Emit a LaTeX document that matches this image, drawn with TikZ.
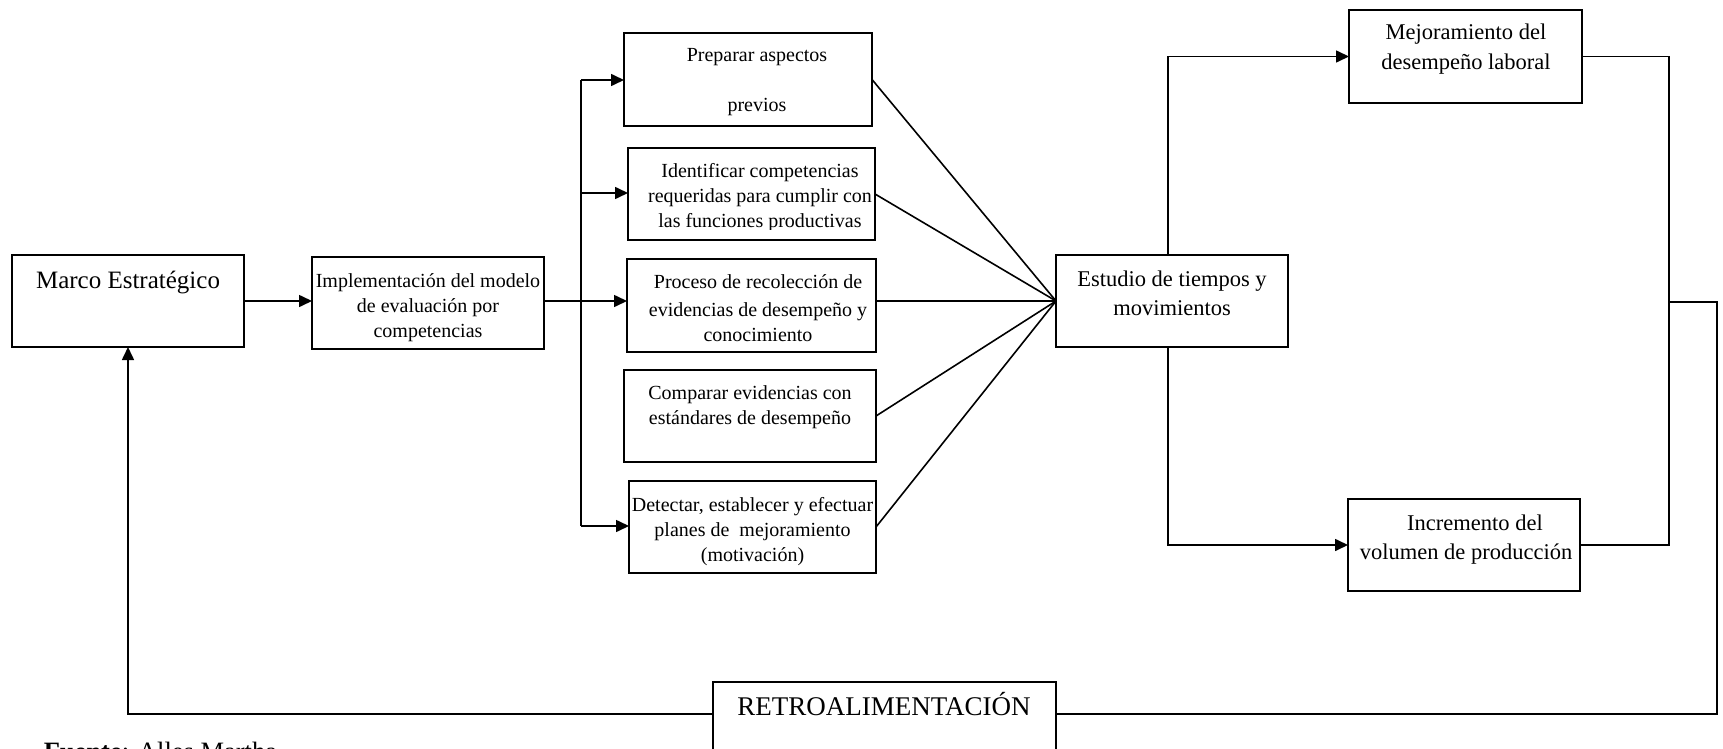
\documentclass[tikz,border=0pt]{standalone}
\usepackage{fontspec}
\setmainfont{Liberation Serif}
\usetikzlibrary{arrows.meta}
\begin{document}
\begin{tikzpicture}[x=1pt,y=-1pt,
  line width=1.6pt,
  box/.style={draw, line width=1.6pt, inner sep=0pt, outer sep=0pt},
  small/.style={font=\fontsize{20}{25}\selectfont, align=center, inner sep=0pt},
  mid/.style={font=\fontsize{22.5}{28}\selectfont, align=center, inner sep=0pt},
  big/.style={font=\fontsize{25}{30}\selectfont, inner sep=0pt},
  arr/.style={-{Triangle[length=13pt,width=12pt]}}
]
\useasboundingbox (0,0) rectangle (1723,749);
\clip (0,0) rectangle (1723,749);
\fill[white] (0,0) rectangle (1723,749);

% boxes
\node[box, minimum width=232pt, minimum height=92pt] (marco) at (128,301) {};
\node[box, minimum width=232pt, minimum height=92pt] (impl) at (428,303) {};
\node[box, minimum width=248pt, minimum height=93pt] (b1) at (748,79.5) {};
\node[box, minimum width=247pt, minimum height=92pt] (b2) at (751.5,194) {};
\node[box, minimum width=249pt, minimum height=93pt] (b3) at (751.5,305.5) {};
\node[box, minimum width=252pt, minimum height=92pt] (b4) at (750,416) {};
\node[box, minimum width=247pt, minimum height=92pt] (b5) at (752.5,527) {};
\node[box, minimum width=232pt, minimum height=92pt] (est) at (1172,301) {};
\node[box, minimum width=233pt, minimum height=93pt] (mej) at (1465.5,56.5) {};
\node[box, minimum width=232pt, minimum height=92pt] (inc) at (1464,545) {};
\node[box, minimum width=343pt, minimum height=93pt] (retro) at (884.5,728.5) {};

% labels
\node[big, anchor=base] (tmarco) at (128,288) {Marco Estratégico};
\node[small] (timpl) at (428,308) {Implementación del modelo\\de evaluación por\\competencias};
\node[small] (tb1) at (757,82.5) {Preparar aspectos\\[25pt]previos};
\begin{scope}
  \clip (600,140) rectangle (900,229);
  \node[small] (tb2) at (760,198) {Identificar competencias\\requeridas para cumplir con\\las funciones productivas};
\end{scope}
\node[small] (tb3) at (758,308) {Proceso de recolección de\\[3pt]evidencias de desempeño y\\conocimiento};
\node[small] (tb4) at (750,407) {Comparar evidencias con\\estándares de desempeño};
\node[small] (tb5) at (752.5,532) {Detectar, establecer y efectuar\\planes de \ mejoramiento\\(motivación)};
\node[mid, font=\fontsize{22.5}{29}\selectfont] (test) at (1172,293) {Estudio de tiempos y\\movimientos};
\node[mid, font=\fontsize{22.5}{30}\selectfont] (tmej) at (1466,49) {Mejoramiento del\\desempeño laboral};
\node[mid, font=\fontsize{22.5}{29}\selectfont] (tinc) at (1466,540) {\hspace*{18pt}Incremento del\\volumen de producción};
\node[big, font=\fontsize{27}{30}\selectfont, anchor=base] (tretro) at (884,715) {RETROALIMENTACIÓN};
\node[big, font=\fontsize{26.5}{30}\selectfont, anchor=base west] (fuente) at (43,760) {\textbf{Fuente}: Alles Martha};

% distribution bus
\coordinate (j1) at (581,80);
\coordinate (j2) at (581,193);
\coordinate (j3) at (581,301);
\coordinate (j5) at (581,526);
\draw[arr] (marco.east) -- (marco.east -| impl.west);
\draw (impl.east |- j3) -- (j3);
\draw (j1) -- (j5);
\draw[arr] (j1) -- (j1 -| b1.west);
\draw[arr] (j2) -- (j2 -| b2.west);
\draw[arr] (j3) -- (j3 -| b3.west);
\draw[arr] (j5) -- (j5 -| b5.west);

% fan into the study box
\draw (b1.east) -- (est.west);
\draw (b2.east) -- (est.west);
\draw (b3.east |- est.west) -- (est.west);
\draw (b4.east) -- (est.west);
\draw (b5.east) -- (est.west);

% outcomes
\draw[arr] ([xshift=-4pt]est.north) |- (mej.west);
\draw[arr] ([xshift=-4pt]est.south) |- (inc.west);
\coordinate (rb) at (1669,545);
\coordinate (rm) at (1669,302);
\draw (mej.east) -| (rb) -- (inc.east);

% feedback loop
\coordinate (fb) at (1717,714);
\draw (rm) -| (fb) -- (fb -| retro.east);
\draw[arr] (fb -| retro.west) -| (marco.south);
\end{tikzpicture}
\end{document}
